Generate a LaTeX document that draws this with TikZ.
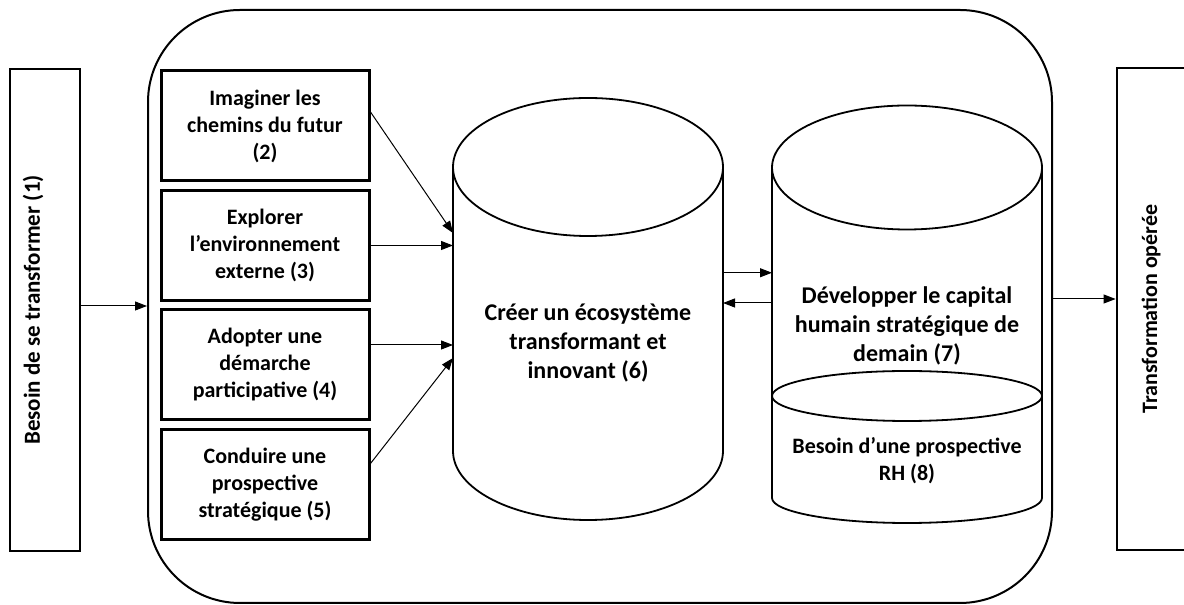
\documentclass[tikz,border=0pt]{standalone}
\usepackage{fontspec}
\setmainfont{Carlito}
\usetikzlibrary{arrows.meta}
\tikzstyle{sidebox} = [
    rectangle,
    minimum width=35pt,
    minimum height=241pt,
    line width=1.4pt,
    draw=black
]
\tikzstyle{actionbox} = [
    rectangle,
    minimum width=104pt,
    minimum height=55pt,
    inner sep=2pt,
    align=center,
    line width=1.5pt,
    draw=black
]
\tikzstyle{body} = [
    rectangle,
    minimum width=135pt,
    inner sep=0pt,
    outer sep=0pt
]
\tikzstyle{cyl} = [line width=0.9pt, draw=black, fill=white]
\tikzstyle{txt} = [align=center, inner sep=0pt]
\tikzstyle{bigtxt} = [txt, font=\fontsize{12}{14.5}\selectfont\bfseries]
\tikzstyle{arrow} = [line width=0.5pt,-{Triangle[length=6pt,width=4.5pt]}]

\begin{document}
\begin{tikzpicture}[x=0.5pt, y=0.5pt, node distance=59.75pt,
    font=\fontsize{11}{13.5}\selectfont\bfseries]
\useasboundingbox (0,0) rectangle (1184,605);

% outer frame
\node (frame) [draw=black, line width=1pt, rounded corners=46pt,
    minimum width=452pt, minimum height=296.5pt] at (600,298.5) {};

% entry and exit
\node (in) [sidebox] at (45,295) {};
\node [txt, rotate=90, font=\fontsize{11.5}{14}\selectfont\bfseries]
    at ([xshift=-6pt]in.center) {Besoin de se transformer (1)};
\node (out) [sidebox] at (1152,296) {};
\node [txt, rotate=90] at ([xshift=-0.5pt]out.center)
{Transformation opérée};

% levers
\node (box2) [actionbox] at (265,479)
{Imaginer les\\chemins du futur\\(2)};
\node (box3) [actionbox, below of=box2]
{Explorer\\l’environnement\\externe (3)};
\node (box4) [actionbox, below of=box3]
{Adopter une\\démarche\\participative (4)};
\node (box5) [actionbox, below of=box4]
{Conduire une\\prospective\\stratégique (5)};

% ecosystem
\node (cyl6) [body, minimum height=142pt] at (588,296) {};
\draw [cyl] (cyl6.north west) -- (cyl6.south west)
    arc [start angle=180, end angle=360, x radius=67.5pt, y radius=34.5pt]
    -- (cyl6.north east);
\draw [cyl] (cyl6.north) ellipse [x radius=67.5pt, y radius=34.5pt];
\node [bigtxt] at ([yshift=-17pt]cyl6.center)
{Créer un écosystème\\transformant et\\innovant (6)};

% human capital
\node (cyl7) [body, minimum height=114.25pt] at (907,323.25) {};
\draw [cyl] (cyl7.south west) -- (cyl7.north west);
\draw [cyl] (cyl7.south east) -- (cyl7.north east);
\draw [cyl] (cyl7.north) ellipse [x radius=67.5pt, y radius=31pt];
\node [bigtxt] at ([yshift=-22pt]cyl7.center)
{Développer le capital\\humain stratégique de\\demain (7)};

\node (cyl8) [body, minimum height=51pt] at (907,158) {};
\draw [cyl] (cyl8.north west) -- (cyl8.south west)
    arc [start angle=180, end angle=360, x radius=67.5pt, y radius=12.5pt]
    -- (cyl8.north east);
\draw [cyl] (cyl8.north) ellipse [x radius=67.5pt, y radius=12.5pt];
\node [txt] at ([yshift=-7pt]cyl8.center)
{Besoin d’une prospective\\RH (8)};

\draw [arrow] ([yshift=2pt]in.east) -- ([yshift=2pt]in.east -| frame.west);
\draw [arrow] ([yshift=7pt]box2.east) -- ([yshift=38pt]cyl6.west);
\draw [arrow] (box3.east) -- (box3.east -| cyl6.west);
\draw [arrow] ([yshift=10pt]box4.east) -- ([yshift=10pt]box4.east -| cyl6.west);
\draw [arrow] ([yshift=10.5pt]box5.east) -- ([yshift=-24.5pt]cyl6.west);
\draw [arrow] ([yshift=4.5pt]cyl7.west -| cyl6.east) -- ([yshift=4.5pt]cyl7.west);
\draw [arrow] ([yshift=3pt]cyl6.east -| cyl7.west) -- ([yshift=3pt]cyl6.east);
\draw [arrow] ([yshift=5pt]out.west -| frame.east) -- ([yshift=5pt]out.west);

\end{tikzpicture}
\end{document}
